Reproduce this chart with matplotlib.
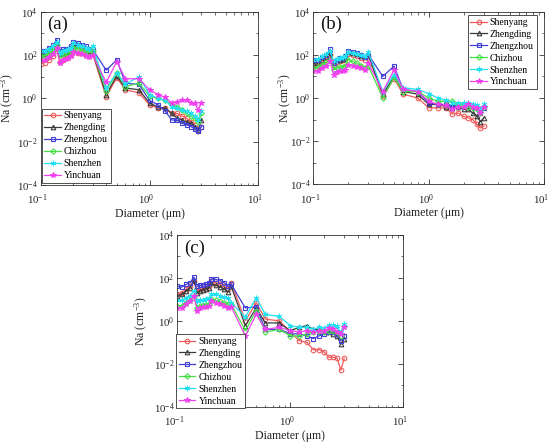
import matplotlib
matplotlib.use("Agg")
import matplotlib.pyplot as plt
import matplotlib.transforms as mtransforms
import numpy as np
from matplotlib.ticker import LogLocator, FixedLocator, NullFormatter, FixedFormatter

plt.rcParams['font.family'] = ['Liberation Serif', 'DejaVu Serif']
plt.rcParams['mathtext.fontset'] = 'custom'
plt.rcParams['mathtext.rm'] = 'Liberation Serif'
plt.rcParams['mathtext.it'] = 'Liberation Serif:italic'

diameter = [0.10, 0.11, 0.12, 0.13, 0.14, 0.15, 0.16, 0.17, 0.18, 0.19,
            0.20, 0.22, 0.24, 0.26, 0.28, 0.30, 0.40, 0.50, 0.60, 0.80,
            1.0, 1.2, 1.4, 1.6, 1.8, 2.0, 2.2, 2.4, 2.6, 2.8, 3.0]

cities = ["Shenyang", "Zhengding", "Zhengzhou", "Chizhou", "Shenzhen", "Yinchuan"]

x_ticks = [0.1, 1, 10]
x_ticklabels = ["$10^{-1}$", "$10^{0}$", "$10^{1}$"]
y_ticks = [1e-4, 1e-2, 1e0, 1e2, 1e4]
y_ticklabels = ["$10^{-4}$", "$10^{-2}$", "$10^{0}$", "$10^{2}$", "$10^{4}$"]

# Panel (a)
a_shenyang  = [40, 45, 60, 90, 200, 50, 60, 70, 80, 100, 150, 130, 120, 100, 90, 110, 1.2, 9, 2.5, 1.8, 0.5, 0.35, 0.35, 0.2, 0.2, 0.15, 0.12, 0.08, 0.06, 0.03, 0.05]
a_zhengding = [100, 110, 150, 200, 350, 110, 130, 140, 150, 180, 300, 260, 230, 180, 150, 140, 1.5, 11, 3, 2.5, 0.6, 0.4, 0.35, 0.2, 0.12, 0.1, 0.08, 0.07, 0.05, 0.035, 0.1]
a_zhengzhou = [150, 160, 220, 280, 500, 150, 180, 190, 200, 250, 400, 350, 300, 250, 200, 180, 20, 60, 5, 4.4, 0.8, 0.5, 0.25, 0.1, 0.1, 0.07, 0.06, 0.05, 0.04, 0.03, 0.05]
a_chizhou   = [89, 95, 130, 170, 300, 100, 110, 120, 130, 150, 220, 200, 180, 150, 130, 150, 2.2, 15, 3.5, 5, 1.3, 1.0, 0.8, 0.5, 0.4, 0.3, 0.2, 0.15, 0.12, 0.08, 0.2]
a_shenzhen  = [150, 160, 200, 260, 400, 130, 160, 170, 180, 220, 350, 300, 260, 220, 180, 250, 3, 15, 4.5, 10, 1.5, 1.0, 0.8, 0.4, 0.35, 0.3, 0.25, 0.2, 0.15, 0.1, 0.25]
a_yinchuan  = [58, 60, 80, 110, 220, 45, 60, 65, 70, 90, 140, 120, 110, 95, 80, 100, 5.5, 50, 8, 8, 2.5, 1.5, 1.1, 0.6, 0.7, 0.8, 0.8, 0.6, 0.6, 0.3, 0.6]

# Panel (b)
b_shenyang  = [30, 32, 45, 60, 100, 35, 45, 50, 55, 70, 110, 100, 90, 75, 60, 90, 1.2, 8, 1.5, 1.0, 0.35, 0.35, 0.35, 0.18, 0.2, 0.14, 0.12, 0.1, 0.06, 0.04, 0.05]
b_zhengding = [40, 42, 60, 80, 120, 40, 55, 60, 65, 80, 140, 120, 110, 90, 80, 100, 1.5, 10, 2, 1.5, 0.5, 0.5, 0.4, 0.35, 0.4, 0.3, 0.3, 0.2, 0.15, 0.08, 0.12]
b_zhengzhou = [55, 58, 80, 100, 180, 40, 60, 70, 75, 90, 150, 130, 120, 100, 80, 100, 10, 30, 2.5, 2, 0.6, 0.5, 0.5, 0.4, 0.5, 0.5, 0.5, 0.4, 0.35, 0.2, 0.35]
b_chizhou   = [25, 26, 35, 45, 60, 20, 25, 27, 28, 30, 60, 50, 40, 32, 25, 30, 1.0, 9, 2, 2, 1.0, 0.7, 0.7, 0.7, 0.5, 0.5, 0.4, 0.35, 0.3, 0.2, 0.4]
b_shenzhen  = [60, 65, 85, 110, 150, 50, 65, 75, 80, 90, 130, 120, 110, 95, 85, 130, 2, 12, 3, 2.5, 1.6, 1.0, 0.8, 0.6, 0.6, 0.6, 0.6, 0.5, 0.45, 0.3, 0.5]
b_yinchuan  = [18, 18, 25, 30, 50, 12, 16, 18, 18, 20, 35, 32, 28, 24, 20, 40, 2, 20, 2.5, 2, 0.7, 0.5, 0.45, 0.3, 0.4, 0.4, 0.5, 0.4, 0.35, 0.2, 0.4]

# Panel (c)
c_shenyang  = [18, 20, 30, 40, 70, 25, 30, 33, 36, 40, 70, 60, 50, 40, 30, 60, 1.0, 7, 1.2, 1.0, 0.3, 0.12, 0.1, 0.045, 0.045, 0.035, 0.02, 0.02, 0.018, 0.005, 0.018]
c_zhengding = [15, 17, 25, 35, 80, 20, 25, 28, 30, 35, 55, 45, 38, 30, 22, 40, 0.6, 4, 0.8, 0.8, 0.35, 0.5, 0.6, 0.4, 0.4, 0.35, 0.3, 0.25, 0.2, 0.08, 0.15]
c_zhengzhou = [40, 38, 50, 60, 110, 40, 45, 48, 50, 55, 90, 85, 75, 60, 40, 50, 4, 4.5, 0.4, 0.4, 0.25, 0.25, 0.2, 0.15, 0.2, 0.25, 0.3, 0.3, 0.25, 0.12, 0.2]
c_chizhou   = [5, 5, 7, 9, 15, 4, 5, 5.5, 5.5, 6, 10, 9, 8, 7, 6, 6, 0.35, 3, 0.3, 0.4, 0.2, 0.2, 0.25, 0.3, 0.35, 0.3, 0.35, 0.35, 0.3, 0.2, 0.55]
c_shenzhen  = [9, 9, 12, 15, 25, 8, 9, 9.5, 10, 11, 18, 17, 15, 13, 12, 7, 1.5, 12, 2, 1.6, 0.6, 0.5, 0.5, 0.4, 0.5, 0.45, 0.65, 0.65, 0.55, 0.3, 0.7]
c_yinchuan  = [4, 4, 6, 8, 15, 3, 4, 4.5, 4.5, 5, 8, 7, 6, 5, 4, 4.5, 0.2, 2, 0.4, 0.5, 0.35, 0.3, 0.35, 0.3, 0.35, 0.35, 0.45, 0.4, 0.3, 0.25, 0.5]

panels = [
    ("(a)", [a_shenyang, a_zhengding, a_zhengzhou, a_chizhou, a_shenzhen, a_yinchuan]),
    ("(b)", [b_shenyang, b_zhengding, b_zhengzhou, b_chizhou, b_shenzhen, b_yinchuan]),
    ("(c)", [c_shenyang, c_zhengding, c_zhengzhou, c_chizhou, c_shenzhen, c_yinchuan]),
]

colors = ["#f05a5a", "#3a3a3a", "#4040d8", "#44e044", "#22e0f0", "#f040f0"]
markers = ["o", "^", "s", "D", (6, 2, 0), "*"]
mfills = ["none", "none", "none", "none", "full", "full"]
msizes = [3.3, 3.3, 3.0, 2.8, 4.0, 4.0]

W, H = 550, 442
rects = [
    (40.7, 11.7, 258.3, 185.0),
    (313.3, 11.7, 544.3, 184.3),
    (177.3, 235.0, 403.3, 406.7),
]
# legend box (pixel coords of left, top) in figure, reference
legend_boxes = [
    (41.5, 108.5),
    (467.5, 15.0),
    (176.0, 334.0),
]
# y-label right edge x (pixels) in reference
ylabel_x = [16.0, 294.5, 149.5]

fig = plt.figure(figsize=(5.5, 4.42), dpi=100)

for (label, series), (x0, y0, x1, y1), (lx, ly), ylx in zip(panels, rects, legend_boxes, ylabel_x):
    ax = fig.add_axes([x0 / W, (H - y1) / H, (x1 - x0) / W, (y1 - y0) / H])
    for name, vals, col, mk, mf, ms in zip(cities, series, colors, markers, mfills, msizes):
        kw = dict(color=col, marker=mk, markersize=ms, linewidth=0.9, label=name)
        if mf == "none":
            kw.update(markerfacecolor="none", markeredgecolor=col, markeredgewidth=0.8)
        else:
            kw.update(markerfacecolor=col, markeredgecolor=col, markeredgewidth=0.7)
        ax.plot(diameter, vals, **kw)
    ax.set_xscale("log")
    ax.set_yscale("log")
    ax.set_xlim(0.1, 10)
    ax.set_ylim(1e-4, 1e4)
    ax.yaxis.set_major_locator(FixedLocator(y_ticks))
    ax.yaxis.set_major_formatter(FixedFormatter(y_ticklabels))
    ax.xaxis.set_major_locator(FixedLocator(x_ticks))
    ax.xaxis.set_major_formatter(FixedFormatter(x_ticklabels))
    ax.yaxis.set_minor_locator(LogLocator(base=10, subs=[1.0], numticks=20))
    ax.xaxis.set_minor_locator(LogLocator(base=10, subs=np.arange(2, 10), numticks=20))
    ax.xaxis.set_minor_formatter(NullFormatter())
    ax.yaxis.set_minor_formatter(NullFormatter())
    ax.tick_params(which="both", direction="in", top=True, right=True, labelsize=7.8, color="#333333",
                   labelcolor="#222222")
    ax.tick_params(which="major", length=3.5, width=0.6)
    ax.tick_params(which="minor", length=1.8, width=0.5)
    ax.tick_params(axis="y", pad=2)
    ax.tick_params(axis="x", pad=5.5)
    offset = mtransforms.ScaledTranslation(-3 / 100, 0, fig.dpi_scale_trans)
    for lab in ax.get_xticklabels():
        lab.set_transform(lab.get_transform() + offset)
    for sp in ax.spines.values():
        sp.set_linewidth(0.6)
        sp.set_color("#333333")
    ax.set_xlabel("Diameter (\u03bcm)", fontsize=8.5, labelpad=0.5, color="#222222")
    ax.set_ylabel("Na (cm$^{-3}$)", fontsize=8.5, color="#222222")
    ax.yaxis.set_label_coords((ylx - x0) / (x1 - x0), 0.5)
    ax.text(0.03, 0.975, label, transform=ax.transAxes, fontsize=13.5, va="top", ha="left",
            color="#111111")
    leg = ax.legend(loc="upper left", bbox_to_anchor=(lx / W, (H - ly) / H),
                    bbox_transform=fig.transFigure,
                    fontsize=7, frameon=True, fancybox=False, edgecolor="#333333",
                    handlelength=1.7, handletextpad=0.3, borderpad=0.3, labelspacing=0.3,
                    borderaxespad=0.0, framealpha=1)
    leg.get_frame().set_linewidth(0.6)

fig.savefig("out.png", dpi=100)
